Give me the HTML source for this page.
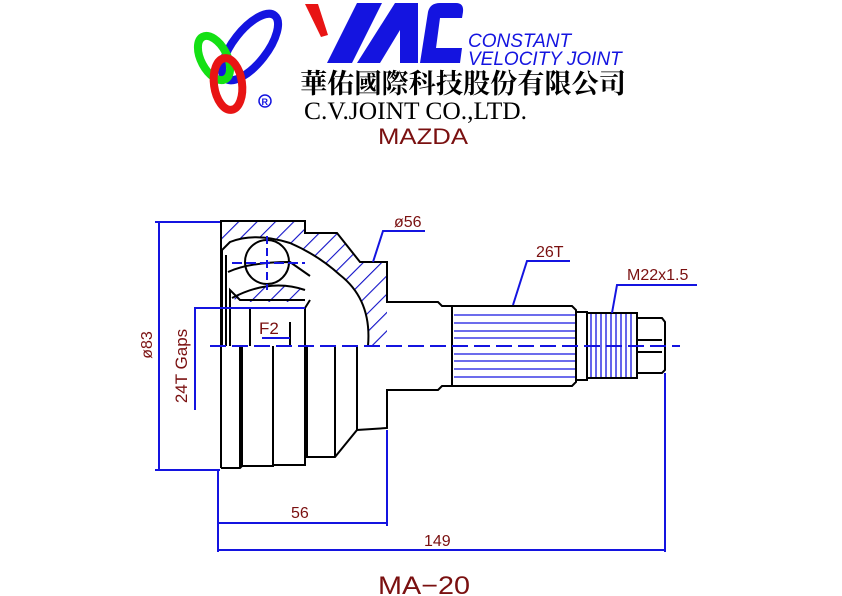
<!DOCTYPE html>
<html><head><meta charset="utf-8"><style>
html,body{margin:0;padding:0;background:#fff}
svg{display:block}
text{font-family:"Liberation Sans",sans-serif}
</style></head><body>
<svg width="842" height="596" viewBox="0 0 842 596" xmlns="http://www.w3.org/2000/svg">
<defs>
<pattern id="h" width="13" height="13" patternUnits="userSpaceOnUse" patternTransform="rotate(45)">
<line x1="0" y1="0" x2="0" y2="13" stroke="#1010c8" stroke-width="2.2"/>
</pattern>
</defs>
<!-- logo rings -->
<ellipse cx="250" cy="47" rx="40" ry="17" transform="rotate(-52 250 47)" fill="none" stroke="#1414e0" stroke-width="8"/>
<ellipse cx="214" cy="58" rx="13" ry="24" transform="rotate(-28 214 58)" fill="none" stroke="#14e014" stroke-width="8"/>
<ellipse cx="228" cy="84" rx="14" ry="26" transform="rotate(-8 228 84)" fill="none" stroke="#e81414" stroke-width="8"/>
<circle cx="265" cy="101" r="6" fill="none" stroke="#1414e0" stroke-width="1.5"/>
<text x="261.5" y="105" font-size="9" fill="#1414e0" font-weight="bold">R</text>
<!-- YAC -->
<polygon points="305,4 318,4 328,35 321,37" fill="#e81414"/>
<polygon points="327,63 357,3 382,3 352,63" fill="#1414e0"/>
<polygon points="357,63 395,3 418,3 418,63 400,63 400,30 380,63" fill="#1414e0"/>
<path d="M420,63 L428,12 Q430,3 440,3 L456,3 Q464,3 463,12 L462,18 L440,18 L436,48 L462,48 L460,63 Z" fill="#1414e0"/>
<text x="468" y="47" font-size="19" font-style="italic" fill="#1414e0">CONSTANT</text>
<text x="468" y="65" font-size="19" font-style="italic" fill="#1414e0">VELOCITY  JOINT</text>
<text x="300" y="93" font-size="27" font-weight="bold" fill="#000" style="font-family:'Noto Serif CJK SC','Noto Sans CJK TC',serif" textLength="326" lengthAdjust="spacingAndGlyphs">華佑國際科技股份有限公司</text>
<text x="304" y="119" font-size="25" fill="#000" style="font-family:'Liberation Serif',serif" textLength="223" lengthAdjust="spacingAndGlyphs">C.V.JOINT CO.,LTD.</text>
<text x="378" y="144" font-size="22" fill="#7a1010" textLength="90" lengthAdjust="spacingAndGlyphs">MAZDA</text>

<!-- hatched sections -->
<path d="M221,221 L305,221 L305,233 L337,233 L360,262 L387,262 L387,346 L368,346 Q372,300 340,275 Q318,255 290,243 Q255,232 230,242 L222,250 Z" fill="url(#h)"/>
<path d="M232,298 Q270,278 305,290 L305,302 L240,302 Z" fill="url(#h)"/>
<g fill="none" stroke="#000" stroke-width="2">
<path d="M221,468 L221,221 L305,221 L305,233 L337,233 L360,262 L387,262 L387,302 L438,302 L442,306 L452,306"/>
<path d="M452,386 L442,386 L438,390 L387,390 L387,428 L357,430 L335,457 L305,457 L305,465 L273,465 L273,466 L242,466 L240,468 L221,468"/>
<path d="M222,346 L222,250 L230,242 Q255,232 290,243 Q318,255 340,275 Q372,300 368,346"/>
<path d="M226,346 L226,255"/>
<path d="M230,346 L230,290 L240,300 L305,300 M232,298 Q270,278 305,290 M228,272 Q250,262 290,262 L310,276"/>
<path d="M240,346 L240,468 M242,346 L242,466 M273,346 L273,465 M290,322 L290,346 M305,346 L305,457 M307,346 L307,457 M335,346 L335,457 M357,346 L357,430"/>
<path d="M250,346 L250,308 L290,308 M290,308 L305,308 L305,346 M305,308 L310,300"/>
<circle cx="267" cy="262" r="22"/>
<path d="M452,306 L572,306 L576,310 L576,382 L572,386 L452,386 Z"/>
<path d="M576,312 L587,312 L587,380 L576,380"/>
<path d="M587,313 L637,313 L637,378 L587,378 Z"/>
<path d="M637,318 L662,318 L665,322 L665,370 L662,373 L637,373 Z"/>
<path d="M637,340 L662,340 M637,352 L662,352"/>
</g>
<!-- spline lines -->
<g stroke="#1414e0" stroke-width="1.3">
<line x1="454" y1="315" x2="575" y2="315"/><line x1="454" y1="323" x2="575" y2="323"/>
<line x1="454" y1="331" x2="575" y2="331"/><line x1="454" y1="338" x2="575" y2="338"/>
<line x1="454" y1="354" x2="575" y2="354"/><line x1="454" y1="361" x2="575" y2="361"/>
<line x1="454" y1="369" x2="575" y2="369"/><line x1="454" y1="377" x2="575" y2="377"/>
<line x1="591" y1="314" x2="591" y2="377"/><line x1="596" y1="314" x2="596" y2="377"/>
<line x1="601" y1="314" x2="601" y2="377"/><line x1="606" y1="314" x2="606" y2="377"/>
<line x1="611" y1="314" x2="611" y2="377"/><line x1="616" y1="314" x2="616" y2="377"/>
<line x1="621" y1="314" x2="621" y2="377"/><line x1="626" y1="314" x2="626" y2="377"/>
<line x1="631" y1="314" x2="631" y2="377"/>
</g>
<!-- centerlines -->
<g stroke="#1414e0" stroke-width="2" fill="none">
<line x1="210" y1="346" x2="680" y2="346" stroke-dasharray="16,6"/>
<line x1="267" y1="236" x2="267" y2="290" stroke-dasharray="8,4"/>
<line x1="232" y1="263" x2="305" y2="263" stroke-dasharray="10,4"/>
<!-- dims -->
<path d="M155,222 L220,222 M155,470 L220,470 M159,222 L159,470"/>
<path d="M218,470 L218,552 M387,430 L387,526 M665,373 L665,552"/>
<path d="M218,523 L387,523 M218,550 L665,550"/>
<path d="M195,410 L195,308 L305,308"/>
<path d="M262,338 L290,338"/>
<path d="M425,231 L383,231 L373,262"/>
<path d="M570,261 L527,261 L513,305"/>
<path d="M697,285 L617,285 L612,313"/>
</g>
<g fill="#7a1010" font-size="16">
<text x="394" y="227">ø56</text>
<text x="536" y="257">26T</text>
<text x="627" y="280">M22x1.5</text>
<text x="259" y="334" font-size="17">F2</text>
<text x="291" y="518">56</text>
<text x="424" y="546">149</text>
<text transform="translate(152,345) rotate(-90)" text-anchor="middle">ø83</text>
<text transform="translate(187,366) rotate(-90)" text-anchor="middle" font-size="17">24T Gaps</text>
<text x="378" y="594" font-size="25" textLength="92" lengthAdjust="spacingAndGlyphs">MA−20</text>
</g>
</svg>
</body></html>
